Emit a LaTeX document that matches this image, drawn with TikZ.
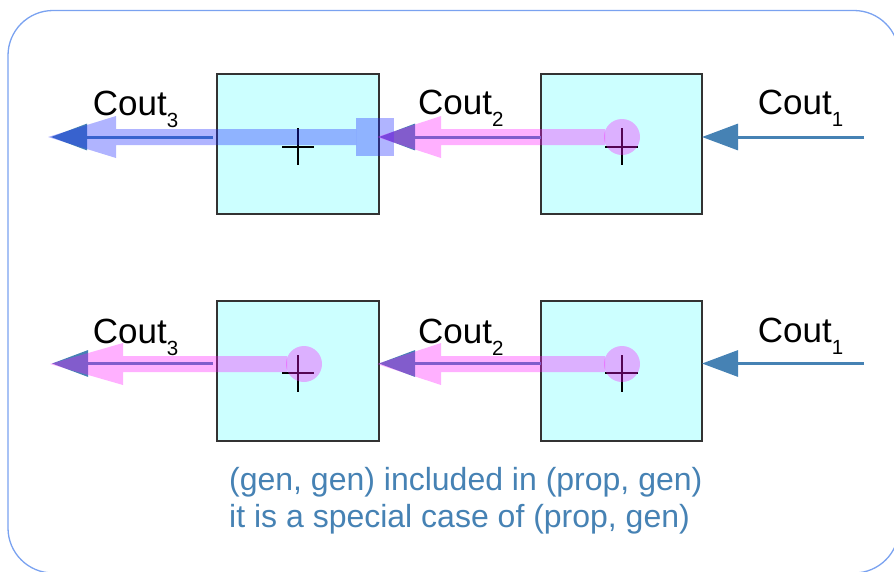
\documentclass[tikz,border=0pt]{standalone}
\usepackage{fontspec}
\setmainfont{Liberation Sans}
\usetikzlibrary{arrows.meta,calc}
\definecolor{boxfill}{HTML}{CCFFFF}
\definecolor{boxline}{HTML}{333333}
\definecolor{steel}{HTML}{4682B4}
\definecolor{frame}{HTML}{7AA2F0}
\definecolor{pinkov}{RGB}{255,16,255}
\definecolor{blueov}{RGB}{30,40,255}
\tikzset{
  adder/.style={draw=boxline, line width=1.2pt, fill=boxfill, minimum width=162pt,
    minimum height=140pt, inner sep=0pt, outer sep=0pt},
  carry/.style={draw=steel, line width=3pt, -{Triangle[length=36pt,width=26pt]}},
  pinkpart/.style={fill=pinkov, fill opacity=0.33},
  bluepart/.style={fill=blueov, fill opacity=0.35},
  plussign/.style={draw=black, line width=2.8pt},
  lbl/.style={anchor=base west, inner sep=0pt, font=\fontsize{35}{42}\selectfont},
  note/.style={anchor=base west, inner sep=0pt, text=steel, font=\fontsize{32}{38}\selectfont}
}
\newcommand{\subn}[1]{\raisebox{-12.3pt}{\fontsize{20.5}{24}\selectfont #1}}
\begin{document}
\begin{tikzpicture}[x=1pt,y=-1pt]
\useasboundingbox (0,0) rectangle (894,571);
\begin{scope}
  \clip (0,0) rectangle (894,571);
  \draw[frame, line width=1.3pt, rounded corners=45pt] (8,10.5) rectangle (899,573);
\end{scope}

% adder boxes
\node[adder] (b1t) at (298,144) {};
\node[adder, minimum width=161pt] (b2t) at (621.5,144) {};
\node[adder] (b1b) at (298,371) {};
\node[adder, minimum width=161pt] (b2b) at (621.5,371) {};

% plus signs
\draw[plussign] (282,147) -- (314,147) (298,128) -- (298,165);
\draw[plussign] (605,147) -- (638,147) (622,128) -- (622,165);
\draw[plussign] (282,373) -- (314,373) (298,355) -- (298,392);
\draw[plussign] (605,373) -- (638,373) (622,355) -- (622,392);

% carry levels
\coordinate (Lt) at (864,137);
\coordinate (Lb) at (864,363.5);
\coordinate (E3t) at (51,137);
\coordinate (E3b) at (52,363.5);

% carry connectors
\draw[carry] (Lt) -- (Lt -| b2t.east);
\draw[carry] (Lt -| b2t.west) -- (Lt -| b1t.east);
\draw[carry] ([xshift=-4pt]Lt -| b1t.west) -- (E3t);
\draw[carry] (Lb) -- (Lb -| b2b.east);
\draw[carry] (Lb -| b2b.west) -- (Lb -| b1b.east);
\draw[carry] ([xshift=-4pt]Lb -| b1b.west) -- (E3b);

% translucent overlays, top row
\fill[bluepart] (356,118) rectangle (394,156);
\fill[bluepart] (356,129) -- (116,129) -- (116,116) -- (48,137) -- (116,158) -- (116,145) -- (356,145) -- cycle;
\fill[pinkpart] (622,137) circle[radius=18pt];
\fill[pinkpart] (605,129) -- (441,129) -- (441,116) -- (377,137) -- (441,158) -- (441,145) -- (605,145) -- cycle;

% translucent overlays, bottom row
\fill[pinkpart] (622,364) circle[radius=18pt];
\fill[pinkpart] (605,356) -- (441,356) -- (441,343) -- (377,364) -- (441,385) -- (441,372) -- (605,372) -- cycle;
\fill[pinkpart] (304,364) circle[radius=18pt];
\fill[pinkpart] (287,356) -- (123,356) -- (123,343) -- (50,364) -- (123,385) -- (123,372) -- (287,372) -- cycle;

% labels
\node[lbl] (c3t) at (92.7,115) {Cout\subn{3}};
\node[lbl] (c2t) at (418,114) {Cout\subn{2}};
\node[lbl] (c1t) at (757.7,114) {Cout\subn{1}};
\node[lbl] (c3b) at (92.7,343.3) {Cout\subn{3}};
\node[lbl] (c2b) at (418,343) {Cout\subn{2}};
\node[lbl] (c1b) at (757.7,342) {Cout\subn{1}};

\node[note] (n1) at (229,490) {(gen, gen) included in (prop, gen)};
\node[note] (n2) at (229,527) {it is a special case of (prop, gen)};
\end{tikzpicture}
\end{document}
